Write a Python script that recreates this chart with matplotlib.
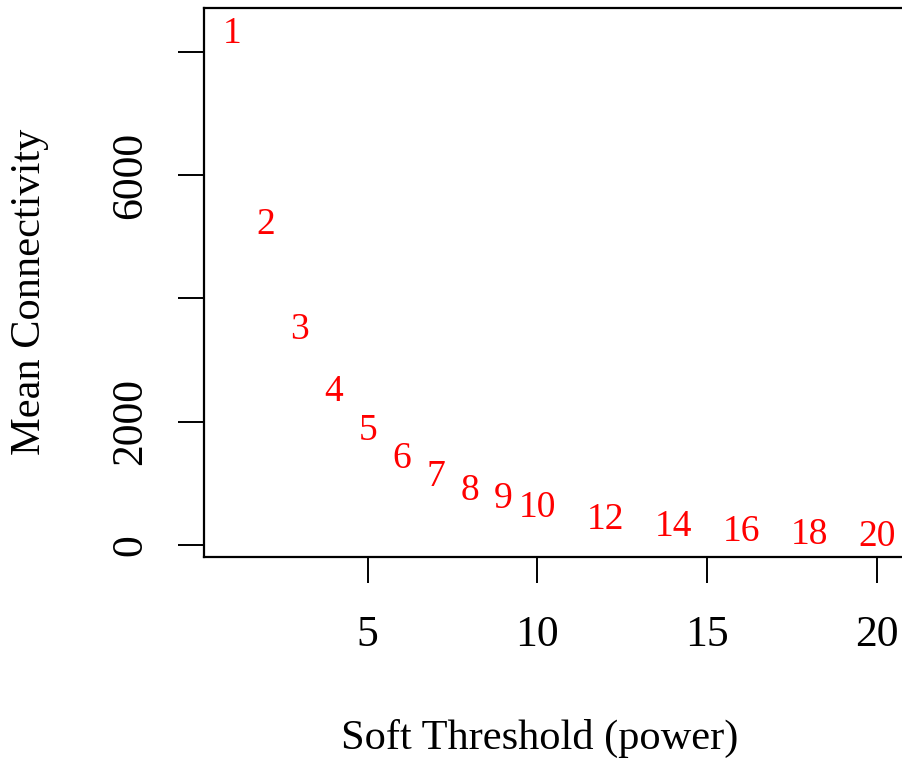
import matplotlib
matplotlib.use("Agg")
import matplotlib.pyplot as plt

# soft threshold powers and mean connectivity
potencias = [1, 2, 3, 4, 5, 6, 7, 8, 9, 10, 12, 14, 16, 18, 20]
conectividade = [8300, 5190, 3490, 2480, 1850, 1400, 1110, 880, 750, 610,
                 410, 290, 220, 170, 130]

ticks_x = [5, 10, 15, 20]
ticks_y = [0, 2000, 4000, 6000, 8000]
rotulos_y = ["0", "2000", "", "6000", ""]

plt.rcParams["font.family"] = ["Liberation Serif", "DejaVu Serif"]

fig = plt.figure(figsize=(9.03, 7.62), dpi=100)
ax = fig.add_axes([204 / 903, 1 - 557 / 762, 700 / 903, 549 / 762])

for p, k in zip(potencias, conectividade):
    ax.text(p, k, str(p), color="red", fontsize=27, ha="center", va="center")

ax.set_xlim(0.176, 20.8)
ax.set_ylim(-195, 8710)
ax.set_xticks(ticks_x)
ax.set_yticks(ticks_y)
ax.set_yticklabels(rotulos_y, rotation=90, va="center")
ax.tick_params(axis="both", length=18.5, width=1.4, labelsize=31.5, color="black")
ax.tick_params(axis="x", pad=23)
ax.tick_params(axis="y", pad=20)
for lado in ax.spines.values():
    lado.set_linewidth(1.6)

fig.text(540 / 903, 1 - 738 / 762, "Soft Threshold (power)", fontsize=30.5,
         ha="center", va="center")
fig.text(30 / 903, 1 - 292 / 762, "Mean Connectivity", fontsize=30.5,
         ha="center", va="center", rotation=90)

fig.savefig("out.png", dpi=100)
